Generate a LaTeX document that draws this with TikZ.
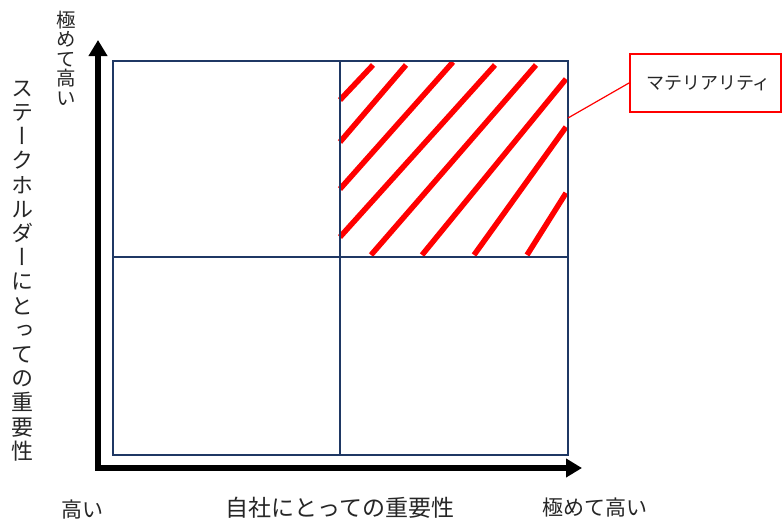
\documentclass[tikz,border=0pt]{standalone}
\usepackage{fontspec}
\usepackage{graphicx}
\usetikzlibrary{arrows.meta}
\newfontfamily\cjk{Noto Sans CJK JP}
\newfontfamily\cjkv[RawFeature=+vert]{Noto Sans CJK JP}
\definecolor{navy}{HTML}{1F3864}
\definecolor{hred}{HTML}{FF0000}
\begin{document}
\begin{tikzpicture}[x=1pt,y=-1pt,
 gridline/.style={draw=navy,line width=1.2pt},
 midline/.style={draw=navy,line width=1.8pt},
 axis/.style={line width=6pt,-{Triangle[width=18pt,length=16pt]}},
 hatch/.style={draw=hred,line width=5.5pt},
 lbl/.style={inner sep=0pt,text=black!85},
 vlbl/.style={align=center,inner sep=0pt,text=black!85},
 callout/.style={draw=hred,line width=2pt,minimum width=151pt,minimum height=58pt,inner sep=0pt,font=\cjk\fontsize{18}{20}\selectfont,text=black!85}]
\useasboundingbox (0,0) rectangle (784,522);
\fill[white] (0,0) rectangle (784,522);
% quadrant coordinates
\coordinate (tl) at (113,61);
\coordinate (br) at (568,455);
\coordinate (mt) at (340,61);
\coordinate (mb) at (340,455);
\coordinate (ml) at (113,257);
\coordinate (mr) at (568,257);
% hatch
\draw[hatch] (340,100) -- (373,65);
\draw[hatch] (340,142) -- (406,65);
\draw[hatch] (340,189) -- (453,62);
\draw[hatch] (340,237) -- (495,65);
\draw[hatch] (371,255) -- (536,65);
\draw[hatch] (422,255) -- (566,79);
\draw[hatch] (474,255) -- (566,127);
\draw[hatch] (527,255) -- (566,193);
% grid
\draw[gridline] (tl) rectangle (br);
\draw[midline] (mt) -- (mb);
\draw[midline] (ml) -- (mr);
% axes
\coordinate (origin) at (98,468);
\coordinate (ytip) at (98,40);
\coordinate (xtip) at (582,468);
\draw[axis] ([yshift=3pt]origin) -- (ytip);
\draw[axis] ([xshift=-3pt]origin) -- (xtip);
% callout
\node[callout] (mat) at (705.5,83) {\hspace*{6pt}マテリアリティ};
\coordinate (matpt) at (568,118);
\draw[hred,line width=1.2pt] (mat.west) -- (matpt);
% labels
\node[vlbl,font=\cjkv\fontsize{19.5}{19.5}\selectfont] (ytop) at (66,58) {極\\め\\て\\高\\い};
\node[vlbl,font=\cjkv\fontsize{22}{24.2}\selectfont] (ytitle) at (22,271) {ス\\テ\\ー\\ク\\ホ\\ル\\ダ\\ー\\に\\と\\っ\\て\\の\\重\\要\\性};
\node[lbl,font=\cjk\fontsize{21}{24}\selectfont] (xlow) at (82,510) {高い};
\node[lbl,font=\cjk\fontsize{23}{26}\selectfont] (xtitle) at (340,508) {自社にとっての重要性};
\node[lbl,font=\cjk\fontsize{21}{24}\selectfont] (xhigh) at (595,508) {極めて高い};
\end{tikzpicture}
\end{document}
